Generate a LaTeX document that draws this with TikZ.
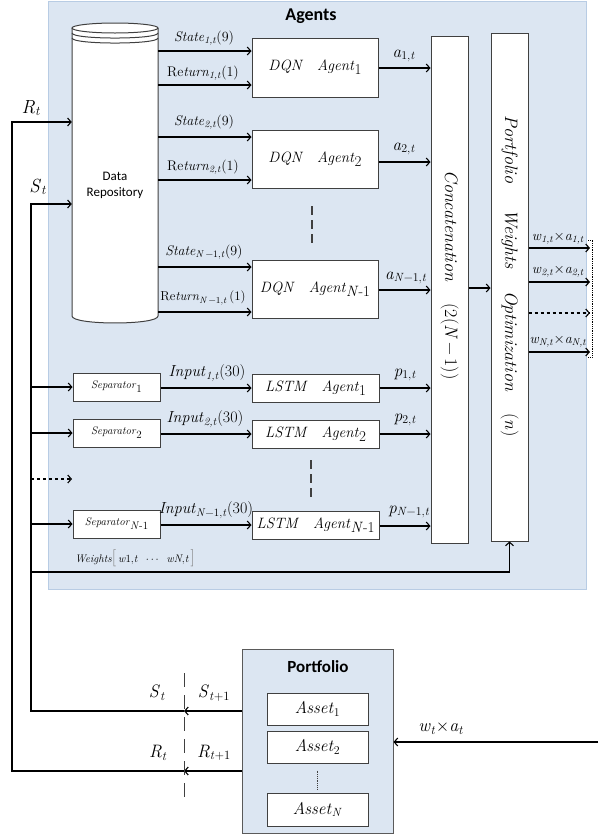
\documentclass[tikz,border=0pt]{standalone}
\usepackage{fontspec}
\setsansfont{Carlito}
\newfontfamily\calfam{Carlito}
\usetikzlibrary{arrows.meta,calc}
\definecolor{panelfill}{RGB}{220,230,242}
\definecolor{panelline}{RGB}{184,204,228}
\definecolor{boxline}{RGB}{64,64,64}
\definecolor{portline}{RGB}{90,90,90}
% a rectangle node given by its corners: name, x1, y1, x2, y2, style, text
\newcommand{\boxat}[7]{\node[#6, minimum width={(#4-#2)*1pt}, minimum height={(#5-#3)*1pt}] (#1) at ({(#2+#4)/2},{(#3+#5)/2}) {#7};}
\newcommand{\sbs}[1]{\textsubscript{#1}}
\newcommand{\low}[1]{\raisebox{-4pt}{#1}}
\newcommand{\fs}[1]{\rmfamily\fontsize{#1}{#1}\selectfont}
\newcommand{\mn}{\textminus}
\begin{document}
\begin{tikzpicture}[x=1pt,y=-1pt,
  box/.style={draw=boxline, fill=white, line width=1pt, inner sep=0pt},
  panel/.style={draw=#1, fill=panelfill, line width=1pt, inner sep=0pt},
  arr/.style={-{Straight Barb[length=3.5pt,width=8pt]}, line width=1.1pt},
  lbl/.style={inner sep=0pt, font=\fs{14}},
  title/.style={inner sep=0pt, font=\calfam\bfseries\fontsize{18}{20}\selectfont}
]
\useasboundingbox (0,0) rectangle (598,836);

% ---- panels ----
\boxat{agents}{48}{1}{586}{589}{panel=panelline}{}
\node[title] (agtitle) at (311,16) {Agents};
\boxat{port}{242}{649}{393}{833}{panel=portline}{}
\node[title, font=\calfam\bfseries\fontsize{17}{19}\selectfont] (pttitle) at (318,667) {Portfolio};

% ---- data repository (cylinder) ----
\boxat{repo}{72}{28}{158}{316}{inner sep=0pt}{}
\fill[white] (72,28) -- (72,316) .. controls (72,325.3) and (158,325.3) .. (158,316) -- (158,28) -- cycle;
\draw[boxline, line width=1pt] (72,28) -- (72,316) .. controls (72,325.3) and (158,325.3) .. (158,316) -- (158,28);
\draw[boxline, line width=1pt, fill=white] (115,28) ellipse[x radius=43, y radius=5];
\draw[boxline, line width=1pt] (72,33) .. controls (72,39.7) and (158,39.7) .. (158,33);
\draw[boxline, line width=1pt] (72,38) .. controls (72,44.7) and (158,44.7) .. (158,38);
\node[inner sep=0pt, align=center, font=\calfam\fontsize{13}{16}\selectfont] (repotext) at (115,185) {Data\\Repository};

% ---- DQN agents ----
\boxat{dqn1}{252}{38}{378}{97}{box, font=\fs{15}}{\textit{DQN}\hspace{14pt}\textit{Agent}\low{1}}
\boxat{dqn2}{252}{130}{378}{188}{box, font=\fs{15}}{\textit{DQN}\hspace{14pt}\textit{Agent}\low{2}}
\boxat{dqn3}{252}{260}{378}{318}{box, font=\fs{15}}{\textit{DQN}\hspace{14pt}\textit{Agent}\low{\textit{N}-1}}
\draw[boxline, line width=1.2pt, dash pattern=on 9pt off 5pt] (312,206) -- (312,243);

\draw[arr] (repo.east |- 0,51) -- (dqn1.west |- 0,51);
\draw[arr] (repo.east |- 0,85) -- (dqn1.west |- 0,85);
\draw[arr] (repo.east |- 0,137) -- (dqn2.west |- 0,137);
\draw[arr] (repo.east |- 0,180) -- (dqn2.west |- 0,180);
\draw[arr] (repo.east |- 0,267) -- (dqn3.west |- 0,267);
\draw[arr] (repo.east |- 0,312) -- (dqn3.west |- 0,312);
\node[lbl] (ls1) at (204,38) {\textit{State}\sbs{\textit{1,t}}(9)};
\node[lbl] (lr1) at (203,73) {Re\textit{turn}\sbs{\textit{1,t}}(1)};
\node[lbl] (ls2) at (204,122) {\textit{State}\sbs{\textit{2,t}}(9)};
\node[lbl] (lr2) at (203,167) {Re\textit{turn}\sbs{\textit{2,t}}(1)};
\node[lbl] (ls3) at (204,252) {\textit{State}\sbs{\textit{N}\,\mn1,\textit{t}}(9)};
\node[lbl, font=\fs{13}] (lr3) at (203,298) {Re\textit{turn}\sbs{\textit{N}\,\mn1,\textit{t}}\,(1)};

% ---- concatenation and weight optimisation bars ----
\boxat{concat}{431}{36}{468}{543}{box}{}
\boxat{pwo}{491}{33}{528}{541}{box}{}
\node[rotate=-90, inner sep=0pt, font=\fs{18}] (concattext) at (449.5,275) {\textit{Concatenation}\hspace{22pt}(2(\textit{N}\,\mn\,1))};
\node[rotate=-90, inner sep=0pt, font=\fs{18}] (pwotext) at (509.5,276) {\textit{Portfolio}\hspace{26pt}\textit{Weights}\hspace{22pt}\textit{Optimization}\hspace{22pt}(\textit{n})};

\draw[arr] (dqn1.east |- 0,68) -- (concat.west |- 0,68);
\draw[arr] (dqn2.east |- 0,162) -- (concat.west |- 0,162);
\draw[arr] (dqn3.east |- 0,290) -- (concat.west |- 0,290);
\node[lbl, font=\fs{17}] (la1) at (404,56) {\textit{a}\sbs{1,\textit{t}}};
\node[lbl, font=\fs{17}] (la2) at (404,149) {\textit{a}\sbs{2,\textit{t}}};
\node[lbl, font=\fs{17}] (la3) at (406,278) {\textit{a}\sbs{\textit{N}\mn1,\textit{t}}};
\draw[arr] (concat.east |- 0,288) -- (pwo.west |- 0,288);

% ---- weighted outputs ----
\draw[arr] (pwo.east |- 0,248) -- (590,248);
\draw[arr] (pwo.east |- 0,282) -- (590,282);
\draw[arr, dashed] (pwo.east |- 0,313) -- (590,313);
\draw[arr] (pwo.east |- 0,352) -- (590,352);
\draw[densely dotted, line width=0.8pt] (588,240) -- (592,240) -- (592,357) -- (588,357);
\node[lbl, font=\fs{14}] (lw1) at (558,238) {\textit{w}\sbs{\textit{1,t}}$\times$\textit{a}\sbs{\textit{1,t}}};
\node[lbl, font=\fs{14}] (lw2) at (558,271) {\textit{w}\sbs{\textit{2,t}}$\times$\textit{a}\sbs{\textit{2,t}}};
\node[lbl, font=\fs{14}] (lw3) at (558,341) {\textit{w}\sbs{\textit{N,t}}$\times$\textit{a}\sbs{\textit{N,t}}};

% ---- separators and LSTM agents ----
\boxat{sep1}{73}{373}{160}{401}{box, font=\fs{11}}{\textit{Separator}\low{1}}
\boxat{sep2}{73}{419}{160}{447}{box, font=\fs{11}}{\textit{Separator}\low{2}}
\boxat{sep3}{73}{510}{160}{538}{box, font=\fs{11}}{\textit{Separator}\low{\textit{N}-1}}
\boxat{lstm1}{252}{374}{379}{402}{box, font=\fs{15}}{\textit{LSTM}\hspace{14pt}\textit{Agent}\low{1}}
\boxat{lstm2}{252}{420}{379}{448}{box, font=\fs{15}}{\textit{LSTM}\hspace{14pt}\textit{Agent}\low{2}}
\boxat{lstm3}{252}{511}{379}{539}{box, font=\fs{15}}{\textit{LSTM}\hspace{14pt}\textit{Agent}\low{\textit{N}-1}}
\draw[boxline, line width=1.2pt, dash pattern=on 9pt off 5pt] (311,460) -- (311,497);

\draw[arr] (sep1.east |- 0,388) -- (lstm1.west |- 0,388);
\draw[arr] (sep2.east |- 0,434) -- (lstm2.west |- 0,434);
\draw[arr] (sep3.east |- 0,525) -- (lstm3.west |- 0,525);
\node[lbl, font=\fs{16}] (li1) at (207,373) {\textit{Input}\sbs{\textit{1,t}}(30)};
\node[lbl, font=\fs{16}] (li2) at (205,419) {\textit{Input}\sbs{\textit{2,t}}(30)};
\node[lbl, font=\fs{16}] (li3) at (206,510) {\textit{Input}\sbs{\textit{N}\mn1,\textit{t}}(30)};

\draw[arr] (lstm1.east |- 0,388) -- (concat.west |- 0,388);
\draw[arr] (lstm2.east |- 0,434) -- (concat.west |- 0,434);
\draw[arr] (lstm3.east |- 0,526) -- (concat.west |- 0,526);
\node[lbl, font=\fs{17}] (lp1) at (405,375) {\textit{p}\sbs{1,\textit{t}}};
\node[lbl, font=\fs{17}] (lp2) at (405,420) {\textit{p}\sbs{2,\textit{t}}};
\node[lbl, font=\fs{17}] (lp3) at (409,512) {\textit{p}\sbs{\textit{N}\mn1,\textit{t}}};

% ---- feedback lines S_t and R_t ----
\coordinate (sturn) at (31,711);
\coordinate (rturn) at (12,771);
\coordinate (smid) at (184,711);
\coordinate (rmid) at (184,771);
\draw[arr] (port.west |- smid) -- (smid);
\draw[arr] (port.west |- rmid) -- (rmid);
\draw[arr] (smid) -- (sturn) -- (31,204) -- (repo.west |- 0,204);
\draw[arr] (rmid) -- (rturn) -- (12,122) -- (repo.west |- 0,122);
\node[lbl, font=\fs{19}] (lst) at (38,187) {\textit{S}\sbs{\textit{t}}};
\node[lbl, font=\fs{19}] (lrt) at (31,108) {\textit{R}\sbs{\textit{t}}};

\draw[arr] (31,387) -- (sep1.west);
\draw[arr] (31,433) -- (sep2.west);
\draw[arr, dashed] (31,479) -- (72,479);
\draw[arr] (31,524) -- (sep3.west);
\draw[arr] (31,572) -- (pwo.south |- 0,572) -- (pwo.south);
\node[inner sep=0pt, font=\fs{11}, anchor=west] (lweights) at (75,558) {\textit{Weights}\textcolor{gray}{\fontsize{17}{17}\selectfont[}\,\textit{w}1,\textit{t}\hspace{8pt}$\cdots$\hspace{8pt}\textit{wN},\textit{t}\,\textcolor{gray}{\fontsize{17}{17}\selectfont]}};

% ---- time step cut ----
\draw[boxline, line width=1pt, dash pattern=on 14pt off 8pt] (184,673) -- (184,803);
\node[lbl, font=\fs{18}] (lso) at (157,693) {\textit{S}\sbs{\textit{t}}};
\node[lbl, font=\fs{18}] (lsn) at (214,693) {\textit{S}\sbs{\textit{t}+1}};
\node[lbl, font=\fs{18}] (lro) at (158,753) {\textit{R}\sbs{\textit{t}}};
\node[lbl, font=\fs{18}] (lrn) at (214,753) {\textit{R}\sbs{\textit{t}+1}};

% ---- assets ----
\boxat{as1}{267}{693}{368}{725}{box, font=\fs{17}}{\textit{Asset}\sbs{1}}
\boxat{as2}{267}{731}{368}{763}{box, font=\fs{17}}{\textit{Asset}\sbs{2}}
\boxat{as3}{267}{793}{368}{826}{box, font=\fs{17}}{\textit{Asset}\sbs{\textit{N}}}
\draw[boxline, densely dotted, line width=0.8pt] (as2.south) ++(0,7) -- ($(as3.north)+(0,-3)$);

% ---- executed weights coming back ----
\coordinate (wsrc) at (598,742);
\draw[arr] (wsrc) -- (port.east |- wsrc);
\node[lbl, font=\fs{18}] (lwa) at (441,728) {\textit{w}\sbs{\textit{t}}$\times$\textit{a}\sbs{\textit{t}}};
\end{tikzpicture}
\end{document}
